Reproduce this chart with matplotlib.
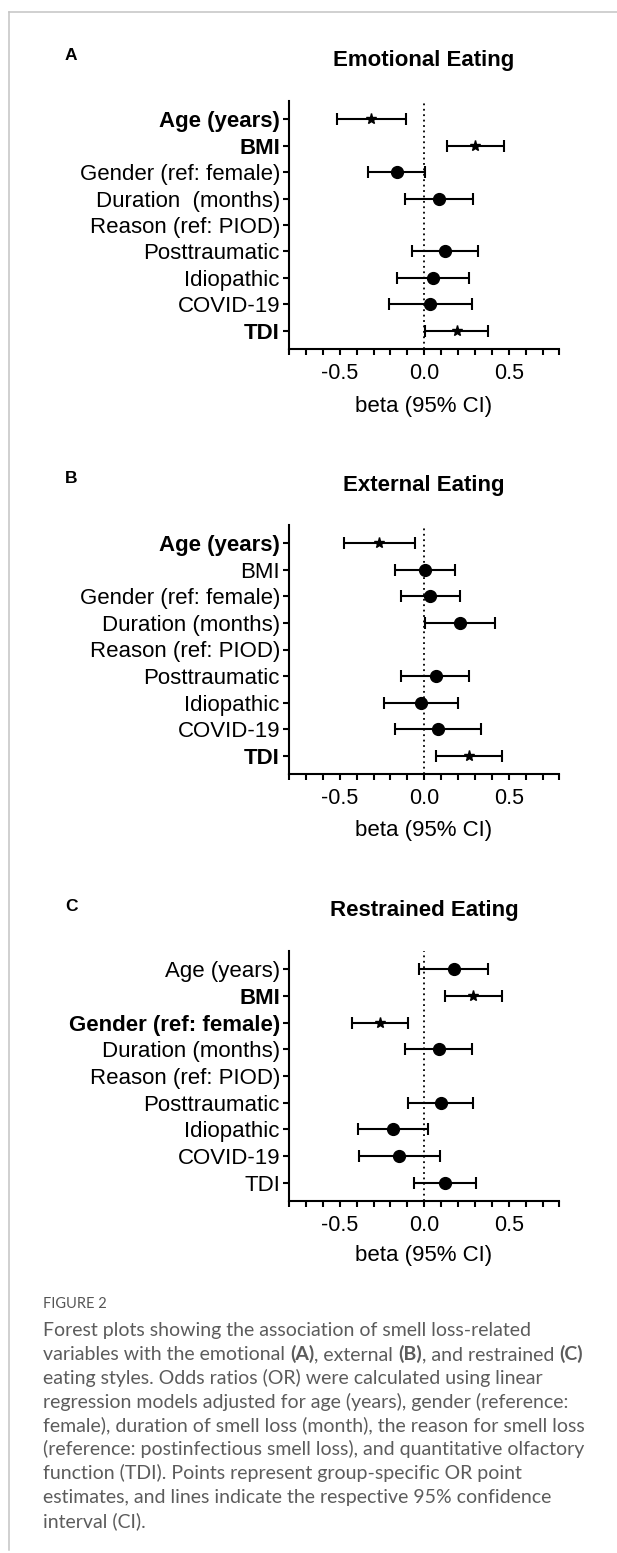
import numpy as np
import matplotlib
matplotlib.use('Agg')
import matplotlib.pyplot as plt
from matplotlib.ticker import MultipleLocator

# DATA

labels_emo = ['Age (years)', 'BMI', 'Gender (ref: female)', 'Duration  (months)',
              'Reason (ref: PIOD)', 'Posttraumatic', 'Idiopathic', 'COVID-19', 'TDI']
labels_ext = ['Age (years)', 'BMI', 'Gender (ref: female)', 'Duration (months)',
              'Reason (ref: PIOD)', 'Posttraumatic', 'Idiopathic', 'COVID-19', 'TDI']
labels_res = labels_ext

# point estimate, lower CI, upper CI (nan = reference row, no estimate)
emo_beta = [-0.314, 0.302, -0.163, 0.086, np.nan, 0.121, 0.051, 0.035, 0.193]
emo_low  = [-0.516, 0.135, -0.333, -0.114, np.nan, -0.072, -0.160, -0.209, 0.005]
emo_high = [-0.105, 0.474, 0.007, 0.291, np.nan, 0.316, 0.263, 0.281, 0.379]
emo_sig  = [True, True, False, False, False, False, False, False, True]

ext_beta = [-0.267, 0.005, 0.037, 0.209, np.nan, 0.067, -0.019, 0.081, 0.263]
ext_low  = [-0.477, -0.172, -0.140, 0.002, np.nan, -0.137, -0.237, -0.172, 0.067]
ext_high = [-0.056, 0.181, 0.214, 0.419, np.nan, 0.265, 0.202, 0.335, 0.460]
ext_sig  = [True, False, False, False, False, False, False, False, True]

res_beta = [0.177, 0.291, -0.263, 0.086, np.nan, 0.098, -0.186, -0.147, 0.126]
res_low  = [-0.028, 0.126, -0.430, -0.112, np.nan, -0.095, -0.393, -0.388, -0.060]
res_high = [0.377, 0.458, -0.093, 0.284, np.nan, 0.286, 0.023, 0.093, 0.309]
res_sig  = [False, True, True, False, False, False, False, False, False]

W, H = 617, 1553
plt.rcParams['font.family'] = ['Liberation Sans', 'DejaVu Sans']

fig = plt.figure(figsize=(W / 100, H / 100), dpi=100)


def fx(x):
    return x / W


def fy(y):
    return 1 - y / H


# frame lines of the figure box
fig.add_artist(plt.Line2D([fx(9), fx(617)], [fy(12), fy(12)], color='#c4c4c4', lw=1.1))
fig.add_artist(plt.Line2D([fx(9), fx(9)], [fy(12), fy(1550)], color='#c4c4c4', lw=1.1))


def forest(top, bottom, labels, beta, low, high, sig, letter, title, title_y, letter_y, xlab_y):
    ax = fig.add_axes([fx(289), fy(bottom), (559.4 - 289) / W, (bottom - top) / H])
    rows = np.arange(1, len(labels) + 1)
    beta = np.array(beta)
    low = np.array(low)
    high = np.array(high)
    sig = np.array(sig)
    err = np.vstack([beta - low, high - beta])
    for mask, mk, ms in [(~sig, 'o', 8.5), (sig, '*', 8)]:
        ax.errorbar(beta[mask], rows[mask], xerr=err[:, mask], fmt=mk, ms=ms,
                    color='black', ecolor='black', elinewidth=1.5, capsize=4,
                    capthick=1.5)
    ax.axvline(0, color='black', lw=1.3, ls=(0, (1, 2)))
    ax.set_xlim(-0.8, 0.8)
    ax.set_ylim(9.68, 0.32)
    ax.set_yticks(rows)
    ax.set_yticklabels(labels, fontsize=16)
    for t, s in zip(ax.get_yticklabels(), sig):
        if s:
            t.set_fontweight('bold')
    ax.xaxis.set_minor_locator(MultipleLocator(0.1))
    ax.set_xticks([-0.5, 0.0, 0.5])
    ax.set_xticklabels(['-0.5', '0.0', '0.5'], fontsize=15.5)
    ax.tick_params(axis='x', which='both', length=4, width=1.5, pad=6, direction='out')
    ax.tick_params(axis='y', length=4.5, width=1.5, pad=2)
    for side in ['top', 'right']:
        ax.spines[side].set_visible(False)
    for side in ['left', 'bottom']:
        ax.spines[side].set_linewidth(1.5)
    fig.text(fx(424), fy(title_y), title, ha='center', va='baseline',
             fontsize=16, fontweight='bold')
    fig.text(fx(65), fy(letter_y), letter, ha='left', va='baseline',
             fontsize=12.5, fontweight='bold')
    fig.text(fx(424), fy(xlab_y), 'beta (95% CI)', ha='center', va='baseline', fontsize=16)
    return ax


forest(101, 349, labels_emo, emo_beta, emo_low, emo_high, emo_sig,
       'A', 'Emotional Eating', 66, 60, 412)
forest(525, 774, labels_ext, ext_beta, ext_low, ext_high, ext_sig,
       'B', 'External Eating', 491, 483, 836)
ax_c = forest(951, 1201, labels_res, res_beta, res_low, res_high, res_sig,
              'C', 'Restrained Eating', 916, 911, 1261)

# CAPTION

cap_font = ['Lato', 'DejaVu Sans']
cap_col = '#5c5c5c'
fig.text(fx(43), fy(1308), 'FIGURE 2', family=cap_font, fontsize=10.5, color='#555555',
         va='baseline')

caption = [
    [('Forest plots showing the association of smell loss-related', False)],
    [('variables with the emotional ', False), ('(A)', True), (', external ', False),
     ('(B)', True), (', and restrained ', False), ('(C)', True)],
    [('eating styles. Odds ratios (OR) were calculated using linear', False)],
    [('regression models adjusted for age (years), gender (reference:', False)],
    [('female), duration of smell loss (month), the reason for smell loss', False)],
    [('(reference: postinfectious smell loss), and quantitative olfactory', False)],
    [('function (TDI). Points represent group-specific OR point', False)],
    [('estimates, and lines indicate the respective 95% confidence', False)],
    [('interval (CI).', False)],
]

y0 = 1336
for i, line in enumerate(caption):
    y = y0 + i * 23.9
    last = None
    for txt, bold in line:
        kw = dict(family=cap_font, fontsize=14, color=cap_col,
                  fontweight='bold' if bold else 'normal')
        if last is None:
            last = fig.text(fx(43), fy(y), txt, va='baseline', ha='left', **kw)
        else:
            last = ax_c.annotate(txt, xy=(1, 0), xycoords=last, va='bottom', ha='left',
                                 annotation_clip=False, **kw)

fig.savefig('out.png', dpi=100)
